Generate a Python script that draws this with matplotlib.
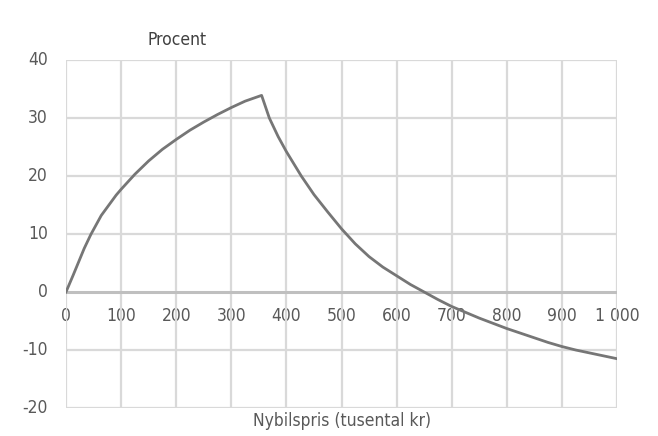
import matplotlib
matplotlib.use("Agg")
import matplotlib.pyplot as plt

# Values (x in tusental kr, y in procent)
price = [0, 13, 23, 33, 45, 64, 91, 100, 125, 150, 175, 200, 225, 250, 275, 300, 325, 355,
         369, 385, 400, 427, 450, 475, 500, 525, 550, 575, 600, 625, 650, 675,
         700, 725, 750, 775, 800, 825, 850, 875, 900, 925, 950, 975, 1000]
pct = [0, 2.9, 5.2, 7.5, 9.9, 13.2, 16.7, 17.7, 20.3, 22.6, 24.6, 26.3, 27.9, 29.3, 30.6,
       31.8, 32.9, 33.9,
       30.0, 26.8, 24.2, 20.0, 16.8, 13.8, 10.9, 8.3, 6.1, 4.3, 2.8, 1.3, 0.0,
       -1.3, -2.5, -3.5, -4.5, -5.4, -6.3, -7.1, -7.9, -8.7, -9.4, -10.0,
       -10.5, -11.0, -11.5]

x_ticks = [0, 100, 200, 300, 400, 500, 600, 700, 800, 900, 1000]
x_labels = ["0", "100", "200", "300", "400", "500", "600", "700", "800", "900", "1 000"]
y_ticks = [-20, -10, 0, 10, 20, 30, 40]

plt.rcParams["font.family"] = ["DejaVu Sans"]
plt.rcParams["font.stretch"] = "condensed"
txt = "#595959"
grid = "#d9d9d9"

fig = plt.figure(figsize=(6.58, 4.36), dpi=100)
ax = fig.add_axes([0.1003, 0.0642, 0.8374, 0.7982])
ax.set_xlim(0, 1000)
ax.set_ylim(-20, 40)
for s in ax.spines.values():
    s.set_visible(False)
ax.set_xticks([])
ax.set_yticks([])

# grid
for xv in x_ticks:
    ax.axvline(xv, color=grid, lw=1.6, zorder=2)
for yv in y_ticks:
    if yv != 0:
        ax.axhline(yv, color=grid, lw=1.6, zorder=2)
ax.axhline(0, color="#bfbfbf", lw=2.2, zorder=2)

ax.plot(price, pct, color="#767676", lw=2, zorder=3, solid_joinstyle="round")

# tick labels
for xv, lab in zip(x_ticks, x_labels):
    ax.annotate(lab, (xv, 0), xytext=(0, -11), textcoords="offset points",
                ha="center", va="top", fontsize=12.5, color=txt, zorder=1)
for yv in y_ticks:
    ax.annotate(str(yv), (0, yv), xytext=(-13, 0), textcoords="offset points",
                ha="right", va="center", fontsize=12.5, color=txt,
                annotation_clip=False)

fig.text(177 / 658, 1 - 40 / 436, "Procent", ha="center", va="center",
         fontsize=12.5, color="#404040")
fig.text(342 / 658, 1 - 421 / 436, "Nybilspris (tusental kr)", ha="center",
         va="center", fontsize=12.5, color=txt)

fig.savefig("out.png", dpi=100)
